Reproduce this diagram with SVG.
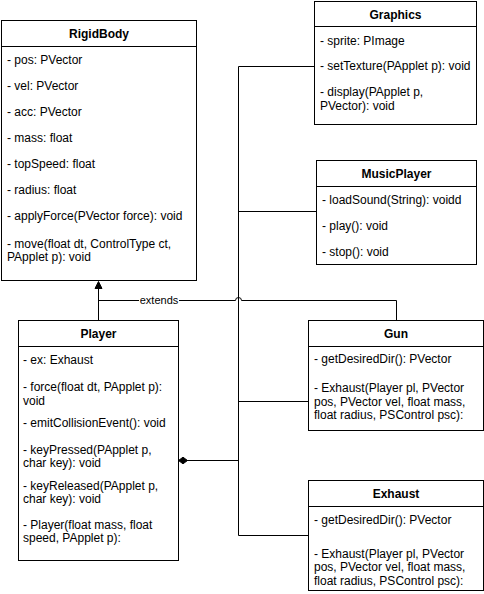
<svg xmlns="http://www.w3.org/2000/svg" width="484" height="594" viewBox="0 0 484 594">
<style>
.box{fill:#fff;stroke:#000;stroke-width:1}
.div{stroke:#000;stroke-width:1}
.t{font-family:"Liberation Sans",Arial,Helvetica,sans-serif;font-size:12px;fill:#000}
.h{font-family:"Liberation Sans",Arial,Helvetica,sans-serif;font-size:12px;font-weight:bold;fill:#000;text-anchor:middle}
.e{fill:none;stroke:#000;stroke-width:1}
.lbl{font-family:"Liberation Sans",Arial,Helvetica,sans-serif;font-size:11px;fill:#000;text-anchor:middle}
</style>
<rect width="484" height="594" fill="#fff"/>
<g id="connectors">
  <path class="e" d="M178.5,460.5 H238.5 V66.5 H314.5"/>
  <path class="e" d="M178.5,460.5 H238.5 V211.5 H316.5"/>
  <path class="e" d="M178.5,460.5 H238.5 V401.5 H308.5"/>
  <path class="e" d="M178.5,460.5 H238.5 V535.5 H308.5"/>
  <path d="M178.5,460.5 L183,457.2 L187.5,460.5 L183,463.8 Z" fill="#000" stroke="#000" stroke-width="1"/>
  <path class="e" d="M98.5,320.5 V287"/>
  <path d="M98.5,281.5 L102,288.5 L95,288.5 Z" fill="#000" stroke="#000" stroke-width="1"/>
  <path class="e" d="M396.5,320.5 V300.5 H241.5 A3,3 0 0 0 235.5,300.5 H98.5"/>
  <rect x="139" y="293" width="40" height="14" fill="#fff"/>
  <text class="lbl" x="159" y="304">extends</text>
</g>
<g id="RigidBody">
  <rect class="box" x="1.5" y="20.5" width="195" height="260"/>
  <line class="div" x1="1.5" y1="46.5" x2="196.5" y2="46.5"/>
  <text class="h" x="99" y="38">RigidBody</text>
  <text class="t" x="7" y="64">- pos: PVector</text>
  <text class="t" x="7" y="90">- vel: PVector</text>
  <text class="t" x="7" y="116">- acc: PVector</text>
  <text class="t" x="7" y="142">- mass: float</text>
  <text class="t" x="7" y="168">- topSpeed: float</text>
  <text class="t" x="7" y="194">- radius: float</text>
  <text class="t" x="7" y="220">- applyForce(PVector force): void</text>
  <text class="t" x="7" y="247.5">- move(float dt, ControlType ct,</text>
  <text class="t" x="7" y="261">PApplet p): void</text>
</g>
<g id="Graphics">
  <rect class="box" x="314.5" y="1.5" width="162" height="123"/>
  <line class="div" x1="314.5" y1="26.5" x2="476.5" y2="26.5"/>
  <text class="h" x="395.5" y="18.5">Graphics</text>
  <text class="t" x="320" y="45">- sprite: PImage</text>
  <text class="t" x="320" y="70">- setTexture(PApplet p): void</text>
  <text class="t" x="320" y="95.5">- display(PApplet p,</text>
  <text class="t" x="320" y="109.5">PVector): void</text>
</g>
<g id="MusicPlayer">
  <rect class="box" x="316.5" y="160.5" width="160" height="104"/>
  <line class="div" x1="316.5" y1="186.5" x2="476.5" y2="186.5"/>
  <text class="h" x="396.5" y="178">MusicPlayer</text>
  <text class="t" x="322" y="203.5">- loadSound(String): voidd</text>
  <text class="t" x="322" y="229.5">- play(): void</text>
  <text class="t" x="322" y="255.5">- stop(): void</text>
</g>
<g id="Player">
  <rect class="box" x="18.5" y="320.5" width="160" height="240"/>
  <line class="div" x1="18.5" y1="346.5" x2="178.5" y2="346.5"/>
  <text class="h" x="98.5" y="338">Player</text>
  <text class="t" x="23" y="364">- ex: Exhaust</text>
  <text class="t" x="23" y="391">- force(float dt, PApplet p):</text>
  <text class="t" x="23" y="404.5">void</text>
  <text class="t" x="23" y="426.5">- emitCollisionEvent(): void</text>
  <text class="t" x="23" y="454">- keyPressed(PApplet p,</text>
  <text class="t" x="23" y="467">char key): void</text>
  <text class="t" x="23" y="490">- keyReleased(PApplet p,</text>
  <text class="t" x="23" y="503">char key): void</text>
  <text class="t" x="23" y="528.5">- Player(float mass, float</text>
  <text class="t" x="23" y="541.5">speed, PApplet p):</text>
</g>
<g id="Gun">
  <rect class="box" x="308.5" y="320.5" width="175" height="110"/>
  <line class="div" x1="308.5" y1="346.5" x2="483.5" y2="346.5"/>
  <text class="h" x="396" y="338">Gun</text>
  <text class="t" x="314" y="363">- getDesiredDir(): PVector</text>
  <text class="t" x="314" y="392">- Exhaust(Player pl, PVector</text>
  <text class="t" x="314" y="405.5">pos, PVector vel, float mass,</text>
  <text class="t" x="314" y="419">float radius, PSControl psc):</text>
</g>
<g id="Exhaust">
  <rect class="box" x="308.5" y="480.5" width="175" height="110"/>
  <line class="div" x1="308.5" y1="506.5" x2="483.5" y2="506.5"/>
  <text class="h" x="396" y="498">Exhaust</text>
  <text class="t" x="314" y="524">- getDesiredDir(): PVector</text>
  <text class="t" x="314" y="557.5">- Exhaust(Player pl, PVector</text>
  <text class="t" x="314" y="571">pos, PVector vel, float mass,</text>
  <text class="t" x="314" y="584.5">float radius, PSControl psc):</text>
</g>
</svg>
